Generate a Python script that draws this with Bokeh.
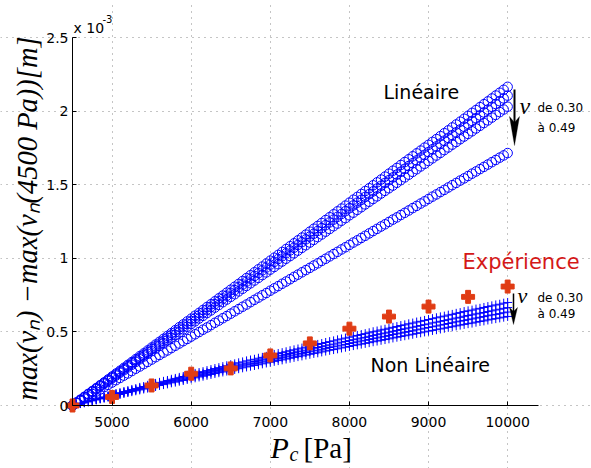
import math
from bokeh.plotting import figure
from bokeh.models import ColumnDataSource, Label, Arrow, PolyAnnotation, FixedTicker, Range1d
from bokeh.embed import file_html
from bokeh.resources import INLINE

# ---------------- data (displacements in 10^-3 m) ----------------
pc = [4500, 4550, 4600, 4650, 4700, 4750, 4800, 4850, 4900, 4950,
      5000, 5050, 5100, 5150, 5200, 5250, 5300, 5350, 5400, 5450,
      5500, 5550, 5600, 5650, 5700, 5750, 5800, 5850, 5900, 5950,
      6000, 6050, 6100, 6150, 6200, 6250, 6300, 6350, 6400, 6450,
      6500, 6550, 6600, 6650, 6700, 6750, 6800, 6850, 6900, 6950,
      7000, 7050, 7100, 7150, 7200, 7250, 7300, 7350, 7400, 7450,
      7500, 7550, 7600, 7650, 7700, 7750, 7800, 7850, 7900, 7950,
      8000, 8050, 8100, 8150, 8200, 8250, 8300, 8350, 8400, 8450,
      8500, 8550, 8600, 8650, 8700, 8750, 8800, 8850, 8900, 8950,
      9000, 9050, 9100, 9150, 9200, 9250, 9300, 9350, 9400, 9450,
      9500, 9550, 9600, 9650, 9700, 9750, 9800, 9850, 9900, 9950,
      10000]

# Linear model (circles), nu from 0.30 to 0.49
lin_1 = [0.000, 0.020, 0.039, 0.059, 0.079, 0.098, 0.118, 0.138, 0.157, 0.177,
         0.197, 0.217, 0.236, 0.256, 0.276, 0.295, 0.315, 0.335, 0.354, 0.374,
         0.394, 0.414, 0.433, 0.453, 0.473, 0.492, 0.512, 0.532, 0.551, 0.571,
         0.590, 0.610, 0.629, 0.649, 0.669, 0.688, 0.708, 0.728, 0.747, 0.767,
         0.787, 0.807, 0.826, 0.846, 0.866, 0.885, 0.905, 0.925, 0.944, 0.964,
         0.984, 1.004, 1.023, 1.043, 1.063, 1.082, 1.102, 1.122, 1.141, 1.161,
         1.181, 1.201, 1.220, 1.240, 1.260, 1.279, 1.299, 1.319, 1.338, 1.358,
         1.378, 1.398, 1.417, 1.437, 1.457, 1.476, 1.496, 1.516, 1.535, 1.555,
         1.575, 1.595, 1.614, 1.634, 1.654, 1.673, 1.693, 1.713, 1.732, 1.752,
         1.771, 1.791, 1.810, 1.830, 1.850, 1.869, 1.889, 1.909, 1.928, 1.948,
         1.968, 1.988, 2.007, 2.027, 2.047, 2.066, 2.086, 2.106, 2.125, 2.145,
         2.165]
lin_2 = [0.000, 0.019, 0.038, 0.057, 0.077, 0.096, 0.115, 0.134, 0.153, 0.172,
         0.191, 0.210, 0.229, 0.248, 0.268, 0.287, 0.306, 0.325, 0.344, 0.363,
         0.383, 0.402, 0.421, 0.440, 0.460, 0.479, 0.498, 0.517, 0.536, 0.555,
         0.574, 0.593, 0.612, 0.631, 0.651, 0.670, 0.689, 0.708, 0.727, 0.746,
         0.765, 0.784, 0.803, 0.822, 0.842, 0.861, 0.880, 0.899, 0.918, 0.937,
         0.957, 0.976, 0.995, 1.014, 1.034, 1.053, 1.072, 1.091, 1.110, 1.129,
         1.148, 1.167, 1.186, 1.205, 1.225, 1.244, 1.263, 1.282, 1.301, 1.320,
         1.340, 1.359, 1.378, 1.397, 1.417, 1.436, 1.455, 1.474, 1.493, 1.512,
         1.531, 1.550, 1.569, 1.588, 1.608, 1.627, 1.646, 1.665, 1.684, 1.703,
         1.722, 1.741, 1.760, 1.779, 1.799, 1.818, 1.837, 1.856, 1.875, 1.894,
         1.914, 1.933, 1.952, 1.971, 1.991, 2.010, 2.029, 2.048, 2.067, 2.086,
         2.105]
lin_3 = [0.000, 0.018, 0.037, 0.055, 0.074, 0.092, 0.111, 0.129, 0.148, 0.166,
         0.185, 0.203, 0.222, 0.240, 0.259, 0.277, 0.296, 0.314, 0.333, 0.351,
         0.369, 0.387, 0.406, 0.424, 0.443, 0.461, 0.480, 0.498, 0.517, 0.535,
         0.554, 0.572, 0.591, 0.609, 0.628, 0.646, 0.665, 0.683, 0.702, 0.720,
         0.738, 0.756, 0.775, 0.793, 0.812, 0.830, 0.849, 0.867, 0.886, 0.904,
         0.923, 0.941, 0.960, 0.978, 0.997, 1.015, 1.034, 1.052, 1.071, 1.089,
         1.107, 1.125, 1.144, 1.162, 1.181, 1.199, 1.218, 1.236, 1.255, 1.273,
         1.292, 1.310, 1.329, 1.347, 1.366, 1.384, 1.403, 1.421, 1.440, 1.458,
         1.476, 1.494, 1.513, 1.531, 1.550, 1.568, 1.587, 1.605, 1.624, 1.642,
         1.661, 1.679, 1.698, 1.716, 1.735, 1.753, 1.772, 1.790, 1.809, 1.827,
         1.845, 1.863, 1.882, 1.900, 1.919, 1.937, 1.956, 1.974, 1.993, 2.011,
         2.030]
lin_4 = [0.000, 0.016, 0.031, 0.047, 0.062, 0.078, 0.094, 0.109, 0.125, 0.140,
         0.156, 0.172, 0.187, 0.203, 0.218, 0.234, 0.250, 0.265, 0.281, 0.296,
         0.312, 0.328, 0.343, 0.359, 0.374, 0.390, 0.406, 0.421, 0.437, 0.452,
         0.468, 0.484, 0.499, 0.515, 0.530, 0.546, 0.562, 0.577, 0.593, 0.608,
         0.624, 0.640, 0.655, 0.671, 0.686, 0.702, 0.718, 0.733, 0.749, 0.764,
         0.780, 0.796, 0.811, 0.827, 0.842, 0.858, 0.874, 0.889, 0.905, 0.920,
         0.935, 0.951, 0.966, 0.982, 0.997, 1.013, 1.029, 1.044, 1.060, 1.075,
         1.091, 1.107, 1.122, 1.138, 1.153, 1.169, 1.185, 1.200, 1.216, 1.231,
         1.247, 1.263, 1.278, 1.294, 1.309, 1.325, 1.341, 1.356, 1.372, 1.387,
         1.403, 1.419, 1.434, 1.450, 1.465, 1.481, 1.497, 1.512, 1.528, 1.543,
         1.559, 1.575, 1.590, 1.606, 1.621, 1.637, 1.653, 1.668, 1.684, 1.699,
         1.715]

# Non-linear model (crosses), nu from 0.30 to 0.49
nl_1 = [0.000, 0.008, 0.015, 0.022, 0.029, 0.037, 0.044, 0.052, 0.058, 0.066,
        0.073, 0.081, 0.087, 0.095, 0.101, 0.109, 0.115, 0.123, 0.129, 0.137,
        0.143, 0.150, 0.157, 0.164, 0.170, 0.178, 0.184, 0.191, 0.197, 0.205,
        0.211, 0.218, 0.224, 0.230, 0.237, 0.244, 0.251, 0.257, 0.264, 0.270,
        0.277, 0.283, 0.290, 0.296, 0.303, 0.309, 0.314, 0.321, 0.327, 0.334,
        0.340, 0.347, 0.353, 0.359, 0.365, 0.372, 0.378, 0.384, 0.390, 0.396,
        0.403, 0.409, 0.415, 0.421, 0.428, 0.434, 0.439, 0.446, 0.452, 0.458,
        0.464, 0.471, 0.476, 0.482, 0.488, 0.494, 0.501, 0.506, 0.513, 0.518,
        0.525, 0.531, 0.536, 0.543, 0.548, 0.555, 0.560, 0.567, 0.572, 0.578,
        0.584, 0.590, 0.596, 0.602, 0.607, 0.614, 0.619, 0.626, 0.631, 0.638,
        0.643, 0.648, 0.655, 0.660, 0.666, 0.672, 0.677, 0.683, 0.688, 0.695,
        0.700]
nl_2 = [0.000, 0.007, 0.014, 0.020, 0.028, 0.035, 0.042, 0.049, 0.055, 0.062,
        0.070, 0.077, 0.083, 0.090, 0.096, 0.103, 0.109, 0.117, 0.123, 0.130,
        0.136, 0.142, 0.149, 0.155, 0.162, 0.169, 0.175, 0.181, 0.187, 0.194,
        0.201, 0.207, 0.213, 0.219, 0.225, 0.232, 0.238, 0.244, 0.251, 0.257,
        0.263, 0.269, 0.275, 0.281, 0.287, 0.294, 0.299, 0.305, 0.311, 0.317,
        0.323, 0.329, 0.336, 0.341, 0.347, 0.353, 0.359, 0.365, 0.370, 0.376,
        0.383, 0.389, 0.394, 0.400, 0.406, 0.412, 0.417, 0.424, 0.430, 0.435,
        0.441, 0.447, 0.452, 0.458, 0.463, 0.470, 0.476, 0.481, 0.487, 0.492,
        0.498, 0.504, 0.509, 0.516, 0.521, 0.527, 0.532, 0.538, 0.543, 0.549,
        0.554, 0.561, 0.566, 0.572, 0.577, 0.583, 0.588, 0.594, 0.599, 0.606,
        0.611, 0.616, 0.622, 0.627, 0.632, 0.638, 0.643, 0.649, 0.654, 0.660,
        0.665]
nl_3 = [0.000, 0.007, 0.014, 0.020, 0.026, 0.033, 0.040, 0.047, 0.053, 0.060,
        0.066, 0.073, 0.079, 0.086, 0.092, 0.099, 0.105, 0.111, 0.117, 0.124,
        0.130, 0.136, 0.143, 0.149, 0.154, 0.161, 0.167, 0.173, 0.179, 0.186,
        0.191, 0.197, 0.203, 0.209, 0.215, 0.222, 0.228, 0.233, 0.239, 0.245,
        0.251, 0.257, 0.263, 0.269, 0.275, 0.280, 0.285, 0.291, 0.297, 0.303,
        0.309, 0.315, 0.320, 0.325, 0.331, 0.337, 0.343, 0.349, 0.354, 0.360,
        0.365, 0.371, 0.376, 0.382, 0.388, 0.394, 0.399, 0.404, 0.410, 0.415,
        0.421, 0.427, 0.432, 0.438, 0.443, 0.448, 0.454, 0.459, 0.465, 0.470,
        0.476, 0.482, 0.487, 0.492, 0.497, 0.503, 0.508, 0.514, 0.519, 0.525,
        0.530, 0.535, 0.540, 0.546, 0.551, 0.557, 0.562, 0.568, 0.573, 0.578,
        0.583, 0.588, 0.594, 0.599, 0.604, 0.610, 0.615, 0.619, 0.624, 0.630,
        0.635]
nl_4 = [0.000, 0.007, 0.013, 0.019, 0.025, 0.032, 0.038, 0.045, 0.050, 0.057,
        0.063, 0.070, 0.075, 0.082, 0.088, 0.094, 0.100, 0.106, 0.112, 0.118,
        0.124, 0.129, 0.136, 0.142, 0.147, 0.154, 0.159, 0.165, 0.170, 0.177,
        0.182, 0.188, 0.194, 0.199, 0.205, 0.211, 0.217, 0.223, 0.228, 0.234,
        0.239, 0.245, 0.250, 0.256, 0.262, 0.267, 0.272, 0.277, 0.283, 0.289,
        0.294, 0.300, 0.305, 0.310, 0.316, 0.321, 0.327, 0.332, 0.337, 0.343,
        0.348, 0.354, 0.358, 0.364, 0.370, 0.375, 0.380, 0.385, 0.391, 0.396,
        0.401, 0.407, 0.412, 0.417, 0.422, 0.427, 0.433, 0.438, 0.443, 0.448,
        0.453, 0.459, 0.464, 0.469, 0.474, 0.479, 0.484, 0.490, 0.494, 0.500,
        0.505, 0.510, 0.515, 0.520, 0.525, 0.531, 0.535, 0.541, 0.546, 0.551,
        0.556, 0.560, 0.566, 0.571, 0.575, 0.581, 0.586, 0.590, 0.595, 0.600,
        0.605]

# Experiment
exp_pc = [4500, 5000, 5500, 6000, 6500, 7000, 7500, 8000, 8500, 9000, 9500, 10000]
exp_v = [0.000, 0.058, 0.136, 0.216, 0.252, 0.340, 0.422, 0.522, 0.604, 0.672, 0.738, 0.808]

x_ticks = [5000, 6000, 7000, 8000, 9000, 10000]
x_tick_labels = ["5000", "6000", "7000", "8000", "9000", "10000"]
y_ticks = [0, 0.5, 1, 1.5, 2, 2.5]
y_tick_labels = ["0", "0.5", "1", "1.5", "2", "2.5"]

X_MIN, X_MAX = 4500, 10390   # axes box
Y_MIN, Y_MAX = 0.0, 2.5

# ---------------- geometry: frame covers whole canvas ----------------
W, H = 591, 468
BOX_L, BOX_R, BOX_T, BOX_B = 72, 538, 37, 405   # pixel box of the axes
KX = (BOX_R - BOX_L) / (X_MAX - X_MIN)
KY = (BOX_B - BOX_T) / (Y_MAX - Y_MIN)

def X(px):
    return X_MIN + (px - BOX_L) / KX

def Y(py):
    return Y_MIN + (BOX_B - py) / KY

p = figure(width=W, height=H, output_backend="svg", toolbar_location=None,
           x_range=Range1d(X(0), X(W)), y_range=Range1d(Y(H), Y(0)),
           min_border_left=0, min_border_right=0, min_border_top=0, min_border_bottom=0)
p.outline_line_color = None
p.background_fill_color = "white"
p.border_fill_color = "white"

p.xaxis.fixed_location = Y_MIN
p.yaxis.fixed_location = X_MIN
p.xaxis.bounds = (X_MIN, X_MAX)
p.yaxis.bounds = (Y_MIN, Y_MAX)

for ax in (p.xaxis[0], p.yaxis[0]):
    ax.axis_line_color = "black"
    ax.axis_line_width = 1
    ax.major_tick_in = 4
    ax.major_tick_out = 0
    ax.minor_tick_in = 0
    ax.minor_tick_out = 0
    ax.major_tick_line_color = "black"
    ax.major_label_text_font = "DejaVu Sans"
    ax.major_label_text_font_size = "14px"
    ax.major_label_text_color = "black"

p.xaxis.ticker = FixedTicker(ticks=x_ticks)
p.yaxis.ticker = FixedTicker(ticks=y_ticks)
p.xaxis.major_label_overrides = {t: l for t, l in zip(x_ticks, x_tick_labels)}
p.yaxis.major_label_overrides = {t: l for t, l in zip(y_ticks, y_tick_labels)}
p.xaxis.major_label_standoff = 11
p.yaxis.major_label_standoff = 4

for g in (p.xgrid[0], p.ygrid[0]):
    g.grid_line_color = "#8a8a8a"
    g.grid_line_dash = "1 5"
    g.grid_line_width = 1
p.xgrid.ticker = FixedTicker(ticks=x_ticks)
p.ygrid.ticker = FixedTicker(ticks=y_ticks)
p.xgrid.bounds = (Y_MIN, Y_MAX)
p.ygrid.bounds = (X_MIN, X_MAX)

src = ColumnDataSource(dict(pc=pc, lin_1=lin_1, lin_2=lin_2, lin_3=lin_3, lin_4=lin_4,
                            nl_1=nl_1, nl_2=nl_2, nl_3=nl_3, nl_4=nl_4))

BLUE = "#0000ff"
for col in ["lin_1", "lin_2", "lin_3", "lin_4"]:
    p.scatter("pc", col, source=src, marker="circle", size=9.5,
              fill_color=None, line_color=BLUE, line_width=1)
for col in ["nl_1", "nl_2", "nl_3", "nl_4"]:
    p.scatter("pc", col, source=src, marker="cross", size=9,
              line_color=BLUE, line_width=1)

RED = "#e03c14"
exp_src = ColumnDataSource(dict(pc=exp_pc, v=exp_v))
p.scatter("pc", "v", source=exp_src, marker="plus", size=13,
          fill_color=RED, line_color=RED, line_width=1)

# ---------------- annotations ----------------
SERIF = "Liberation Serif"

def lab(px, py, text, size, font="DejaVu Sans", style="normal", color="black",
        align="left", angle=0.0):
    p.add_layout(Label(x=X(px), y=Y(py), text=text, text_font=font,
                       text_font_size=f"{size}px", text_font_style=style,
                       text_color=color, text_align=align, text_baseline="middle",
                       angle=angle))

# exponent
lab(73, 27, "x 10", 14)
lab(102, 18, "-3", 10)

# axis titles
lab(27, 218, "max(v\u2099) \u2212max(v\u2099(4500 Pa))[m]", 28.5, font=SERIF,
    style="italic", align="center", angle=math.pi / 2)
lab(270, 447, "P", 30, font=SERIF, style="italic")
lab(289, 453, "c", 20, font=SERIF, style="italic")
lab(303, 447, "[Pa]", 29, font=SERIF)

# in-plot texts
lab(383, 91, "Linéaire", 19)
lab(370, 364, "Non Linéaire", 19)
lab(462, 261, "Expérience", 21, color="#d41818")

lab(519, 105, "\u03bd", 24, font=SERIF, style="italic")
lab(537, 107, "de 0.30", 12)
lab(537, 127, "à 0.49", 12)
lab(517, 295, "\u03bd", 22, font=SERIF, style="italic")
lab(537, 297, "de 0.30", 12)
lab(537, 313, "à 0.49", 12)

# arrows
p.add_layout(Arrow(end=None, x_start=X(514), y_start=Y(89), x_end=X(514), y_end=Y(125),
                   line_color="black", line_width=2))
p.add_layout(PolyAnnotation(xs=[X(509), X(514), X(519), X(514)],
                            ys=[Y(116), Y(145), Y(116), Y(122)],
                            fill_color="black", fill_alpha=1.0, line_color="black", line_width=1))
p.add_layout(Arrow(end=None, x_start=X(513), y_start=Y(293), x_end=X(513), y_end=Y(314),
                   line_color="black", line_width=1.5))
p.add_layout(PolyAnnotation(xs=[X(509), X(513), X(517), X(513)],
                            ys=[Y(307), Y(324), Y(307), Y(311)],
                            fill_color="black", fill_alpha=1.0, line_color="black", line_width=1))

open("out.html", "w").write(file_html(p, INLINE))
